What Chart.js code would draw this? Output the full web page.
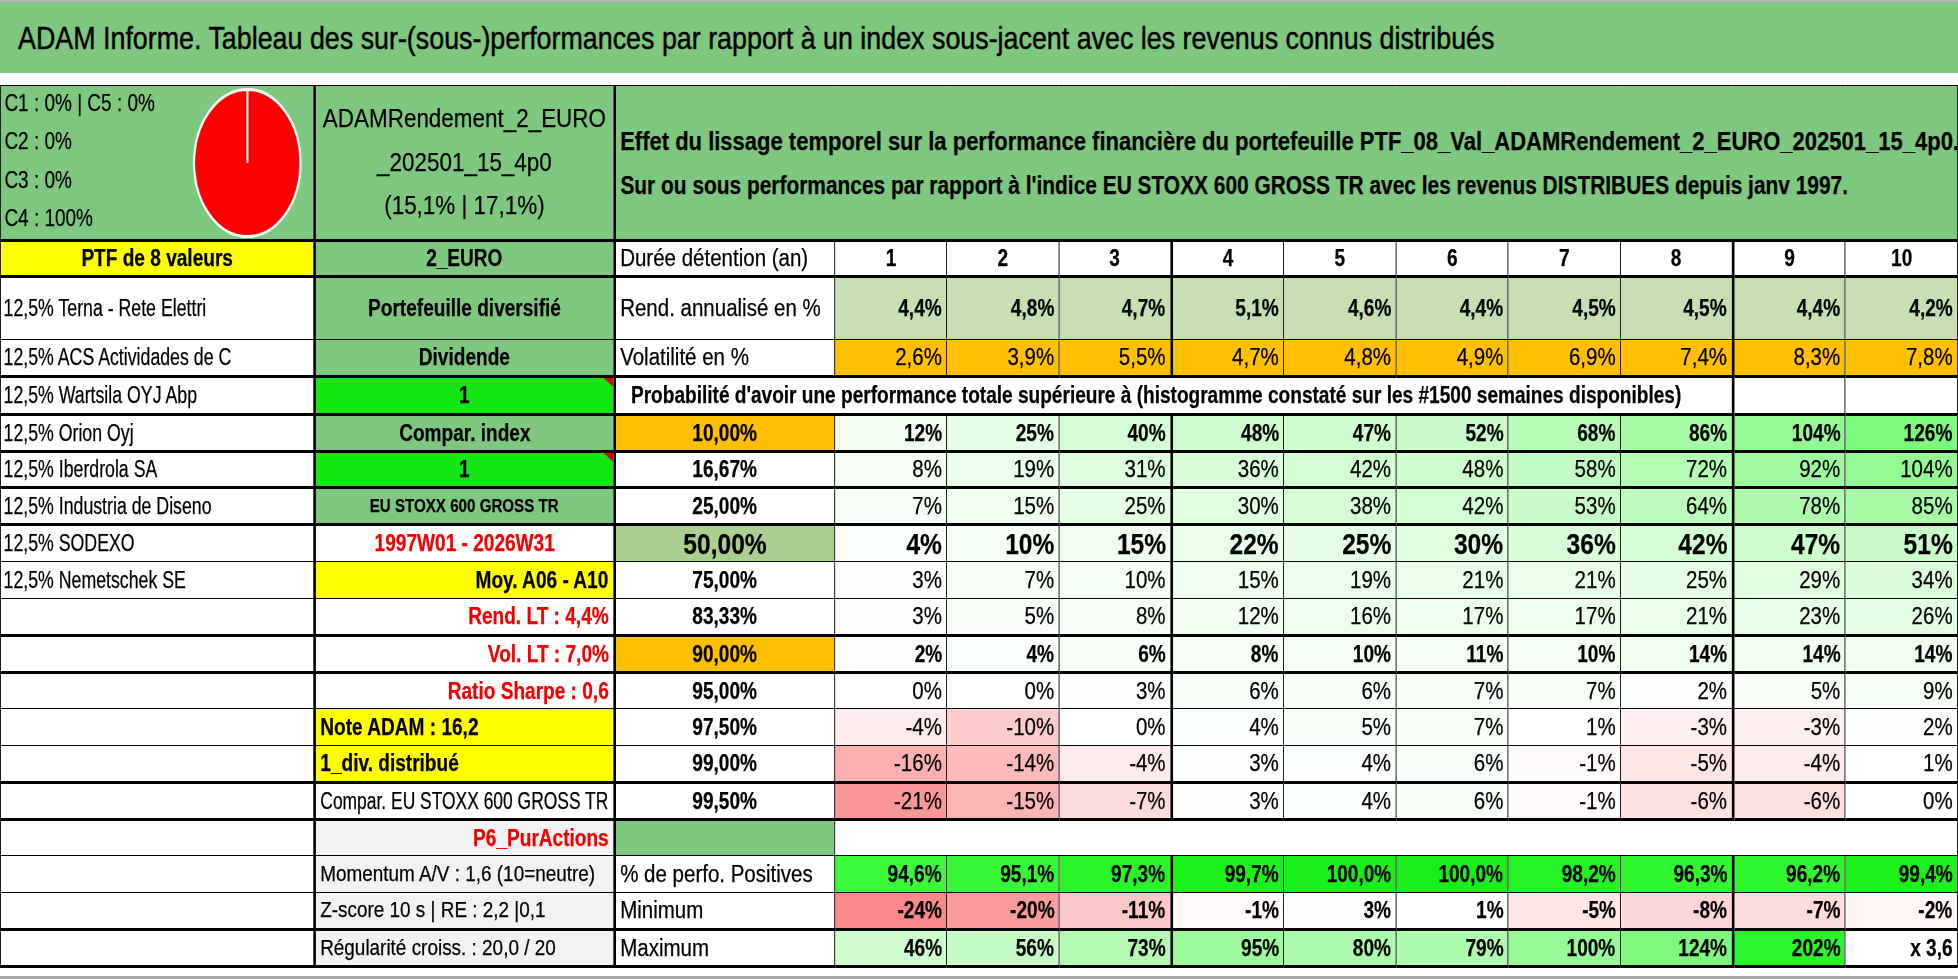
<!DOCTYPE html>
<html lang="fr">
<head>
<meta charset="utf-8">
<title>ADAM Informe</title>
<script src="https://cdn.jsdelivr.net/npm/chart.js@4.4.1/dist/chart.umd.min.js"></script>
<style>
  html, body { margin: 0; padding: 0; background: #fff; overflow: hidden; }
  body { width: 1958px; height: 979px; position: relative; }
  #page { position: absolute; left: 0; top: 0; height: 979px; transform-origin: 0 0;
          font-family: "Liberation Sans", Arial, sans-serif; color: #000; }
  #topline { position: absolute; left: 0; top: 0; height: 2px; background: #b5b5b5; }
  #bottomline { position: absolute; left: 0; top: 976px; height: 3px; background: #a8a8a8; }
  #title { position: absolute; left: 0; top: 2px; height: 71px; background: #7ec77e;
           font-size: 30.5px; line-height: 72px; white-space: nowrap; -webkit-text-stroke: 0.45px #000; }
  #grid { position: absolute; left: 0; top: 85px; border-collapse: collapse; table-layout: fixed; }
  #grid td { border: 1px solid #000; padding: 0 5px; white-space: nowrap; overflow: hidden;
             font-size: 23.3px; vertical-align: middle; -webkit-text-stroke: 0.25px currentColor; }
  #grid td.thickb { border-bottom-width: 3px; }
  #grid td.thickl { border-left-width: 3px; }
  .g { background: #7ec77e; }
  .y { background: #ffff00; }
  .o { background: #ffc000; }
  .lg { background: #c6e0b4; }
  .g50 { background: #a9d08e; }
  .bg { background: #14e614; }
  .gr { background: #f2f2f2; }
  .red { color: #f00000; }
  .b { font-weight: bold; }
  .c { text-align: center; }
  .r { text-align: right; }
  .l { text-align: left; }
  .small { font-size: 18.5px !important; }
  .mid { font-size: 21.5px !important; }
  .big { font-size: 30px !important; }
  .sq { display: inline-block; }
  .flag { position: relative; }
  .flag::after { content: ''; position: absolute; top: 0; right: 0;
                 border-left: 11px solid transparent; border-top: 9px solid #e00000; }
  .lines div { white-space: nowrap; }
  #pieWrap { position: absolute; width: 152px; height: 152px; transform-origin: 50% 50%; }
</style>
</head>
<body>
<div id="page">
  <div id="topline"></div>
  <div id="title"></div>
  <table id="grid"></table>
  <div id="pieWrap"><canvas id="pie" width="152" height="152"></canvas></div>
  <div id="bottomline"></div>
</div>
<script>
// ---- data ----
const pieLabels = ['C1', 'C2', 'C3', 'C4', 'C5'];
const pieValues = [0, 0, 0, 100, 0];

const holdings = ['12,5% Terna - Rete Elettri', '12,5% ACS Actividades de C', '12,5% Wartsila OYJ Abp',
  '12,5% Orion Oyj', '12,5% Iberdrola SA', '12,5% Industria de Diseno', '12,5% SODEXO', '12,5% Nemetschek SE'];

const durations = [1, 2, 3, 4, 5, 6, 7, 8, 9, 10];
const rendement = [4.4, 4.8, 4.7, 5.1, 4.6, 4.4, 4.5, 4.5, 4.4, 4.2];
const volatilite = [2.6, 3.9, 5.5, 4.7, 4.8, 4.9, 6.9, 7.4, 8.3, 7.8];

const seuils = ['10,00%', '16,67%', '25,00%', '50,00%', '75,00%', '83,33%', '90,00%', '95,00%', '97,50%', '99,00%', '99,50%'];
const prob10 = [12, 25, 40, 48, 47, 52, 68, 86, 104, 126];
const prob1667 = [8, 19, 31, 36, 42, 48, 58, 72, 92, 104];
const prob25 = [7, 15, 25, 30, 38, 42, 53, 64, 78, 85];
const prob50 = [4, 10, 15, 22, 25, 30, 36, 42, 47, 51];
const prob75 = [3, 7, 10, 15, 19, 21, 21, 25, 29, 34];
const prob8333 = [3, 5, 8, 12, 16, 17, 17, 21, 23, 26];
const prob90 = [2, 4, 6, 8, 10, 11, 10, 14, 14, 14];
const prob95 = [0, 0, 3, 6, 6, 7, 7, 2, 5, 9];
const prob975 = [-4, -10, 0, 4, 5, 7, 1, -3, -3, 2];
const prob99 = [-16, -14, -4, 3, 4, 6, -1, -5, -4, 1];
const prob995 = [-21, -15, -7, 3, 4, 6, -1, -6, -6, 0];
const probRows = [prob10, prob1667, prob25, prob50, prob75, prob8333, prob90, prob95, prob975, prob99, prob995];

const positives = [94.6, 95.1, 97.3, 99.7, 100.0, 100.0, 98.2, 96.3, 96.2, 99.4];
const minimum = [-24, -20, -11, -1, 3, 1, -5, -8, -7, -2];
const maximum = [46, 56, 73, 95, 80, 79, 100, 124, 202];
const ratioMax = 'x 3,6';

const titleText = 'ADAM Informe. Tableau des sur-(sous-)performances par rapport à un index sous-jacent avec les revenus connus distribués';
const headerLines = ['Effet du lissage temporel sur la performance financière du portefeuille PTF_08_Val_ADAMRendement_2_EURO_202501_15_4p0.',
  "Sur ou sous performances par rapport à l'indice EU STOXX 600 GROSS TR avec les revenus DISTRIBUES depuis janv 1997."];
const fundLines = ['ADAMRendement_2_EURO', '_202501_15_4p0', '(15,1% | 17,1%)'];
const probaText = "Probabilité d'avoir une performance totale supérieure à (histogramme constaté sur les #1500 semaines disponibles)";

// column B: [text, classes, squeeze]
const infoCells = [
  ['2_EURO', 'g b c'], ['Portefeuille diversifié', 'g b c'], ['Dividende', 'g b c'], ['1', 'bg b c flag'],
  ['Compar. index', 'g b c'], ['1', 'bg b c flag'], ['EU STOXX 600 GROSS TR', 'g b c small'],
  ['1997W01 - 2026W31', 'red b c'], ['Moy. A06 - A10', 'y b r'], ['Rend. LT : 4,4%', 'red b r'],
  ['Vol. LT : 7,0%', 'red b r'], ['Ratio Sharpe : 0,6', 'red b r'], ['Note ADAM : 16,2', 'y b l'],
  ['1_div. distribué', 'y b l'], ['Compar. EU STOXX 600 GROSS TR', 'l', 0.85], ['P6_PurActions', 'gr red b r'],
  ['Momentum A/V : 1,6 (10=neutre)', 'gr l mid'], ['Z-score 10 s | RE : 2,2 |0,1', 'gr l mid'],
  ['Régularité croiss. : 20,0 / 20', 'gr l mid']
];

// ---- layout ----
const SX = 0.88;    // horizontal squeeze of the whole sheet
const BOLD_SQ = 0.93;
const colWidths = [314, 300, 220, 112.3, 112.3, 112.3, 112.3, 112.3, 112.3, 112.3, 112.3, 112.3, 112.3];
const rowHeights = [155, 36, 63, 37, 38, 37, 36, 37, 37, 37, 37, 37, 36, 37, 37, 37, 36, 37, 37, 37];
const thickRows = [0, 1, 3, 4, 5, 6, 7, 10, 11, 14, 15, 18, 19];

const page = document.getElementById('page');
page.style.width = (1958 / SX) + 'px';
page.style.transform = 'scaleX(' + SX + ')';
document.getElementById('topline').style.width = (1958 / SX) + 'px';
document.getElementById('bottomline').style.width = (1958 / SX) + 'px';
const title = document.getElementById('title');
title.style.width = (1958 / SX) + 'px';
title.style.paddingLeft = (18 / SX) + 'px';
title.style.boxSizing = 'border-box';
title.textContent = titleText;

function pct1(v) { return v.toFixed(1).replace('.', ',') + '%'; }
function pct0(v) { return v + '%'; }

function mix(a, b, t) {
  t = Math.max(0, Math.min(1, t));
  return 'rgb(' + a.map((x, i) => Math.round(x + (b[i] - x) * t)).join(',') + ')';
}
// colour scale of the sheet: white -> green for gains, white -> red for losses
function heat(v) {
  if (v >= 0) return mix([255, 255, 255], [45, 245, 45], v / 202);
  return mix([255, 255, 255], [250, 136, 136], -v / 24);
}
function posColor(v) {
  return mix([60, 250, 60], [25, 240, 25], (v - 94) / 6);
}

// bold Calibri is narrower than bold Liberation: squeeze bold text a bit more
function td(text, cls, extra, sq) {
  cls = cls || '';
  if (sq === undefined) sq = / b( |$)/.test(' ' + cls) ? BOLD_SQ : 1;
  if (sq !== 1 && text !== '') {
    const origin = / r( |$)/.test(' ' + cls) ? 'right' : (/ l( |$)/.test(' ' + cls) ? 'left' : 'center');
    text = '<span class="sq" style="transform:scaleX(' + sq + ');transform-origin:' + origin + '">' + text + '</span>';
  }
  return '<td class="' + cls + '"' + (extra || '') + '>' + text + '</td>';
}
function numCells(values, fmt, clsFn, colorFn) {
  return values.map((v, i) => {
    let cls = clsFn(i);
    if (i === 3 || i === 8) cls += ' thickl';
    return td(String(fmt(v)), cls, colorFn ? ' style="background:' + colorFn(v) + '"' : '');
  }).join('');
}

let html = '<colgroup>' + colWidths.map(w => '<col style="width:' + (w / SX) + 'px">').join('') + '</colgroup>';
let tableWidth = colWidths.reduce((a, b) => a + b, 0) / SX;

for (let r = 0; r < rowHeights.length; r++) {
  let row = '';
  if (r === 0) {
    const pieText = [
      pieLabels[0] + ' : ' + pieValues[0] + '% | ' + pieLabels[4] + ' : ' + pieValues[4] + '%',
      pieLabels[1] + ' : ' + pieValues[1] + '%',
      pieLabels[2] + ' : ' + pieValues[2] + '%',
      pieLabels[3] + ' : ' + pieValues[3] + '%'
    ];
    row += td('<div class="lines" style="font-size:24.5px;line-height:38.5px;margin-top:-4px">' +
      pieText.map(t => '<div>' + t + '</div>').join('') + '</div>', 'g l', ' style="padding-left:4px"', 0.88);
    row += td('<div class="lines" style="font-size:25.5px;line-height:43.5px">' +
      fundLines.map(t => '<div>' + t + '</div>').join('') + '</div>', 'g c thickl', '', 1);
    row += td('<div class="lines" style="font-size:25px;line-height:44px">' +
      '<div>' + headerLines[0] + '</div>' +
      '<div style="transform:scaleX(0.95);transform-origin:left">' + headerLines[1] + '</div>' +
      '</div>', 'g b l thickl', ' colspan="11"', 1);
  } else {
    const a = r - 2;
    if (r === 1) row += td('PTF de 8 valeurs', 'y b c');
    else row += td(a < holdings.length ? holdings[a] : '', 'l', ' style="padding-left:3px"', 0.865);
    const info = infoCells[r - 1];
    row += td(info[0], info[1] + ' thickl', '', info[2]);
    if (r === 1) {
      row += td('Durée détention (an)', 'l thickl');
      row += numCells(durations, v => v, () => 'b c');
    } else if (r === 2) {
      row += td('Rend. annualisé en %', 'l thickl');
      row += numCells(rendement, pct1, () => 'b r lg');
    } else if (r === 3) {
      row += td('Volatilité en %', 'l thickl');
      row += numCells(volatilite, pct1, () => 'r o');
    } else if (r === 4) {
      row += td(probaText, 'b l thickl', ' colspan="9" style="padding-left:' + (15 / SX) + 'px"');
      row += td('', 'thickl') + td('', '');
    } else if (r >= 5 && r <= 15) {
      const k = r - 5;
      let labCls = 'b c thickl';
      let valCls = 'r';
      if (k === 0 || k === 6) { labCls += ' o'; valCls = 'b r'; }
      if (k === 3) { labCls += ' g50 big'; valCls = 'b r big'; }
      row += td(seuils[k], labCls);
      row += numCells(probRows[k], pct0, () => valCls, heat);
    } else if (r === 16) {
      row += td('', 'g thickl');
      row += td('', '', ' colspan="10"');
    } else if (r === 17) {
      row += td('% de perfo. Positives', 'l thickl');
      row += numCells(positives, pct1, () => 'b r', posColor);
    } else if (r === 18) {
      row += td('Minimum', 'l thickl');
      row += numCells(minimum, pct0, () => 'b r', heat);
    } else if (r === 19) {
      row += td('Maximum', 'l thickl');
      row += numCells(maximum, pct0, () => 'b r', heat);
      row += td(ratioMax, 'b r');
    }
  }
  if (thickRows.includes(r)) row = row.replace(/<td class="/g, '<td class="thickb ');
  html += '<tr style="height:' + rowHeights[r] + 'px">' + row + '</tr>';
}
const grid = document.getElementById('grid');
grid.style.width = tableWidth + 'px';
grid.innerHTML = html;

// ---- pie of the C1..C5 split ----
const pieWrap = document.getElementById('pieWrap');
pieWrap.style.left = (247 / SX - 76) + 'px';
pieWrap.style.top = (162.5 - 76) + 'px';
pieWrap.style.transform = 'scaleX(' + (110 / (152 * SX)) + ')';

new Chart(document.getElementById('pie'), {
  type: 'pie',
  data: {
    labels: pieLabels,
    datasets: [{
      data: pieValues,
      backgroundColor: ['#4472c4', '#ed7d31', '#a5a5a5', '#ff0000', '#ffc000'],
      borderColor: '#ffffff',
      borderWidth: 3
    }]
  },
  options: {
    responsive: false,
    animation: false,
    layout: { padding: 1 },
    plugins: { legend: { display: false }, tooltip: { enabled: false } }
  }
});
</script>
</body>
</html>
